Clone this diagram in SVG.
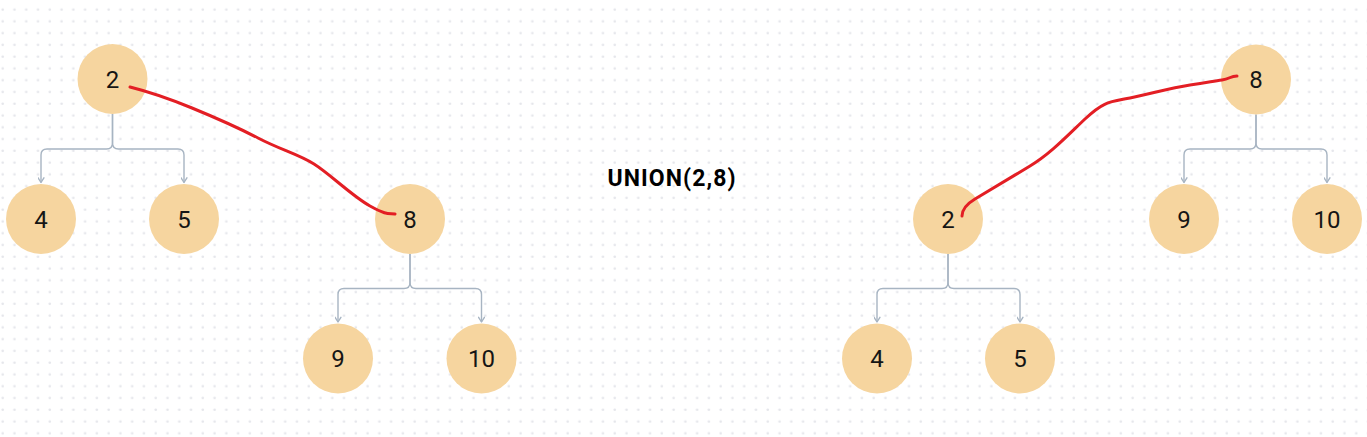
<svg xmlns="http://www.w3.org/2000/svg" width="1367" height="437" viewBox="0 0 1367 437">
  <defs>
    <pattern id="dots" patternUnits="userSpaceOnUse" x="0" y="0" width="11.77" height="11.77">
      <circle cx="2.7" cy="9.6" r="1.3" fill="#e5e6eb"/>
    </pattern>
    <marker id="arrow" markerUnits="userSpaceOnUse" markerWidth="7" markerHeight="7" viewBox="0 0 6 6" refX="5" refY="3" orient="auto">
      <path d="M1,0.5 L5,3 L1,5.5" fill="none" stroke="#a7b4c2" stroke-width="1.2" stroke-linecap="round" stroke-linejoin="round"/>
    </marker>
    <style>
      .node circle { fill: #f6d59f; }
      .node text { font-family: Roboto, "Liberation Sans", sans-serif; font-size: 24px; fill: #151515; text-anchor: middle; }
      .edge { fill: none; stroke: #a7b4c2; stroke-width: 1.4; marker-end: url(#arrow); }
      .union { fill: none; stroke: #e31e24; stroke-width: 3; stroke-linecap: round; stroke-linejoin: round; }
      .title { font-family: Roboto, "Liberation Sans", sans-serif; font-weight: bold; font-size: 23px; fill: #000; text-anchor: middle; }
    </style>
  </defs>

  <rect width="1367" height="437" fill="#ffffff"/>
  <rect width="1367" height="437" fill="url(#dots)"/>

  <g id="connectors">
    <!-- left 2 -> 4, 5 -->
    <path class="edge" d="M112.5,114 V143 Q112.5,149 106.5,149 H47 Q41,149 41,155 V182.5"/>
    <path class="edge" d="M112.5,114 V143 Q112.5,149 118.5,149 H178 Q184,149 184,155 V182.5"/>
    <!-- left 8 -> 9, 10 -->
    <path class="edge" d="M410,254 V282.5 Q410,288.5 404,288.5 H344 Q338,288.5 338,294.5 V322"/>
    <path class="edge" d="M410,254 V282.5 Q410,288.5 416,288.5 H475.5 Q481.5,288.5 481.5,294.5 V322"/>
    <!-- right 8 -> 9, 10 -->
    <path class="edge" d="M1256,114.5 V143 Q1256,149 1250,149 H1190 Q1184,149 1184,155 V182.5"/>
    <path class="edge" d="M1256,114.5 V143 Q1256,149 1262,149 H1321 Q1327,149 1327,155 V182.5"/>
    <!-- right 2 -> 4, 5 -->
    <path class="edge" d="M948,254 V282.5 Q948,288.5 942,288.5 H883 Q877,288.5 877,294.5 V322"/>
    <path class="edge" d="M948,254 V282.5 Q948,288.5 954,288.5 H1014 Q1020,288.5 1020,294.5 V322"/>
  </g>

  <g id="L2" class="node"><circle cx="112.5" cy="79" r="35"/><text x="112.5" y="87.5">2</text></g>
  <g id="L4" class="node"><circle cx="41" cy="219" r="35"/><text x="41" y="227.5">4</text></g>
  <g id="L5" class="node"><circle cx="184" cy="219" r="35"/><text x="184" y="227.5">5</text></g>
  <g id="L8" class="node"><circle cx="410" cy="219" r="35"/><text x="410" y="227.5">8</text></g>
  <g id="L9" class="node"><circle cx="338" cy="358.5" r="35"/><text x="338" y="367">9</text></g>
  <g id="L10" class="node"><circle cx="481.5" cy="358.5" r="35"/><text x="481.5" y="367">10</text></g>

  <g id="title"><text class="title" x="671.5" y="185.5" textLength="128" lengthAdjust="spacing">UNION(2,8)</text></g>

  <g id="R8" class="node"><circle cx="1256" cy="79.5" r="35"/><text x="1256" y="88">8</text></g>
  <g id="R9" class="node"><circle cx="1184" cy="219" r="35"/><text x="1184" y="227.5">9</text></g>
  <g id="R10" class="node"><circle cx="1327" cy="219" r="35"/><text x="1327" y="227.5">10</text></g>
  <g id="R2" class="node"><circle cx="948" cy="219" r="35"/><text x="948" y="227.5">2</text></g>
  <g id="R4" class="node"><circle cx="877" cy="358.5" r="35"/><text x="877" y="367">4</text></g>
  <g id="R5" class="node"><circle cx="1020" cy="358.5" r="35"/><text x="1020" y="367">5</text></g>

  <g id="union-strokes">
    <path class="union" d="M130,87 C150,92 175,101 192,108 S235,126 258,138 S298,154 314,164 S352,196 370,206 S389,213 395,214"/>
    <path class="union" d="M962,216 C962,210 965,205 975,199 S1010,178 1030,166 S1066,137 1085,119 S1110,102 1130,98 S1170,88 1190,85 S1214,81 1222,80 S1230,76 1237,76"/>
  </g>
</svg>
